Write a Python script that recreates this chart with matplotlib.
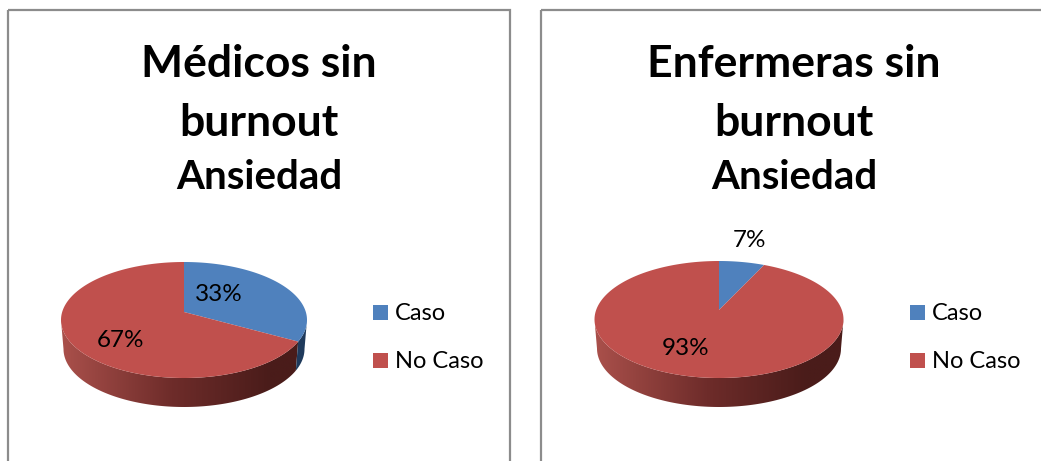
import numpy as np
import matplotlib.pyplot as plt
from matplotlib.colors import LinearSegmentedColormap
from matplotlib.patches import Polygon, Rectangle

plt.rcParams['font.family'] = ['Lato', 'DejaVu Sans']

categories = ['Caso', 'No Caso']
medicos_values = [33, 67]
enfermeras_values = [7, 93]
medicos_title = ['Médicos sin', 'burnout', 'Ansiedad']
enfermeras_title = ['Enfermeras sin', 'burnout', 'Ansiedad']

W, H = 1041, 461
RED = '#c0504d'
BLUE = '#4f81bd'
DARK_BLUE = '#1f3a5c'
FRAME = '#8c8c8c'
side_cmap = LinearSegmentedColormap.from_list(
    'side', [(0, '#aa504b'), (0.45, '#6e2c2a'), (0.85, '#4a1c1a'), (1, '#4a1c1a')])


def rim_point(cx, cy, rx, ry, apex_y, theta):
    # the apex sits above the ellipse centre, so walk a ray out to the rim
    dx = rx * np.sin(theta)
    dy = -ry * np.cos(theta)
    off = apex_y - cy
    a = (dx / rx) ** 2 + (dy / ry) ** 2
    b = 2 * dy * off / ry ** 2
    c = (off / ry) ** 2 - 1
    t = (-b + np.sqrt(b * b - 4 * a * c)) / (2 * a)
    return cx + dx * t, apex_y + dy * t


def rim_angle(cx, cy, rx, ry, x, y):
    return np.arctan2((x - cx) / rx, -(y - cy) / ry) % (2 * np.pi)


def draw_pie(ax, values, labels_xy, cx, cy, rx, ry, apex_y):
    colors = [BLUE, RED]
    depth = 29
    low_rx = rx - 2.5
    edges = [0.0]
    for v in values:
        edges.append(edges[-1] + v / sum(values) * 2 * np.pi)
    rim = [rim_angle(cx, cy, rx, ry, *rim_point(cx, cy, rx, ry, apex_y, e)) for e in edges[:-1]] + [2 * np.pi]

    # side wall first, only the front half of the rim is visible
    for i in range(len(values)):
        start = max(rim[i], np.pi / 2)
        end = min(rim[i + 1], 3 * np.pi / 2)
        if end <= start:
            continue
        t = np.linspace(start, end, 120)
        top = np.column_stack([cx + rx * np.sin(t), cy - ry * np.cos(t)])
        low = np.column_stack([cx + low_rx * np.sin(t), cy + depth - ry * np.cos(t)])
        poly = np.vstack([top, low[::-1]])
        if i == 0:
            ax.add_patch(Polygon(poly, closed=True, fc=DARK_BLUE, ec='none'))
        else:
            patch = Polygon(poly, closed=True, fc='none', ec='none')
            ax.add_patch(patch)
            grad = ax.imshow(np.linspace(0, 1, 256).reshape(1, -1), cmap=side_cmap, aspect='auto',
                             extent=(cx - rx, cx + rx, cy + ry + depth, cy), interpolation='bilinear')
            grad.set_clip_path(patch)

    # top face
    for i, v in enumerate(values):
        th = np.linspace(edges[i], edges[i + 1], 200)
        pts = [(cx, apex_y)] + [rim_point(cx, cy, rx, ry, apex_y, a) for a in th]
        ax.add_patch(Polygon(pts, closed=True, fc=colors[i], ec='none', zorder=3))
        ax.text(labels_xy[i][0], labels_xy[i][1], f'{v}%', fontsize=17.5, color='black',
                ha='center', va='center', zorder=4)


def draw_legend(ax, x, ys):
    for name, y, col in zip(categories, ys, [BLUE, RED]):
        ax.add_patch(Rectangle((x, y - 7.5), 15, 15, fc=col, ec='none'))
        ax.text(x + 22, y + 1, name, fontsize=17, color='black', ha='left', va='center')


def draw_title(ax, lines, x):
    sizes = [32, 32, 29]
    baselines = [77, 136, 189]
    for line, s, y in zip(lines, sizes, baselines):
        ax.text(x, y, line, fontsize=s, fontweight='bold', color='black', ha='center', va='baseline')


fig = plt.figure(figsize=(W / 100, H / 100), dpi=100, facecolor='white')
ax = fig.add_axes([0, 0, 1, 1])

# panel frames run off the bottom edge, the second one off the right too
ax.add_patch(Rectangle((8, 10.5), 502, 470, fc='none', ec=FRAME, lw=1.6))
ax.add_patch(Rectangle((541, 10.5), 540, 470, fc='none', ec=FRAME, lw=1.6))

draw_title(ax, medicos_title, 259)
draw_title(ax, enfermeras_title, 794)

draw_pie(ax, medicos_values, [(219, 294), (121, 340)], 184, 320, 123, 58, 312)
draw_pie(ax, enfermeras_values, [(750, 240), (686, 348)], 719, 319.5, 124.5, 58.5, 310)

draw_legend(ax, 373, [312, 360])
draw_legend(ax, 910, [312, 360])

ax.set_xlim(0, W)
ax.set_ylim(H, 0)
ax.axis('off')

fig.savefig('out.png', dpi=100)
